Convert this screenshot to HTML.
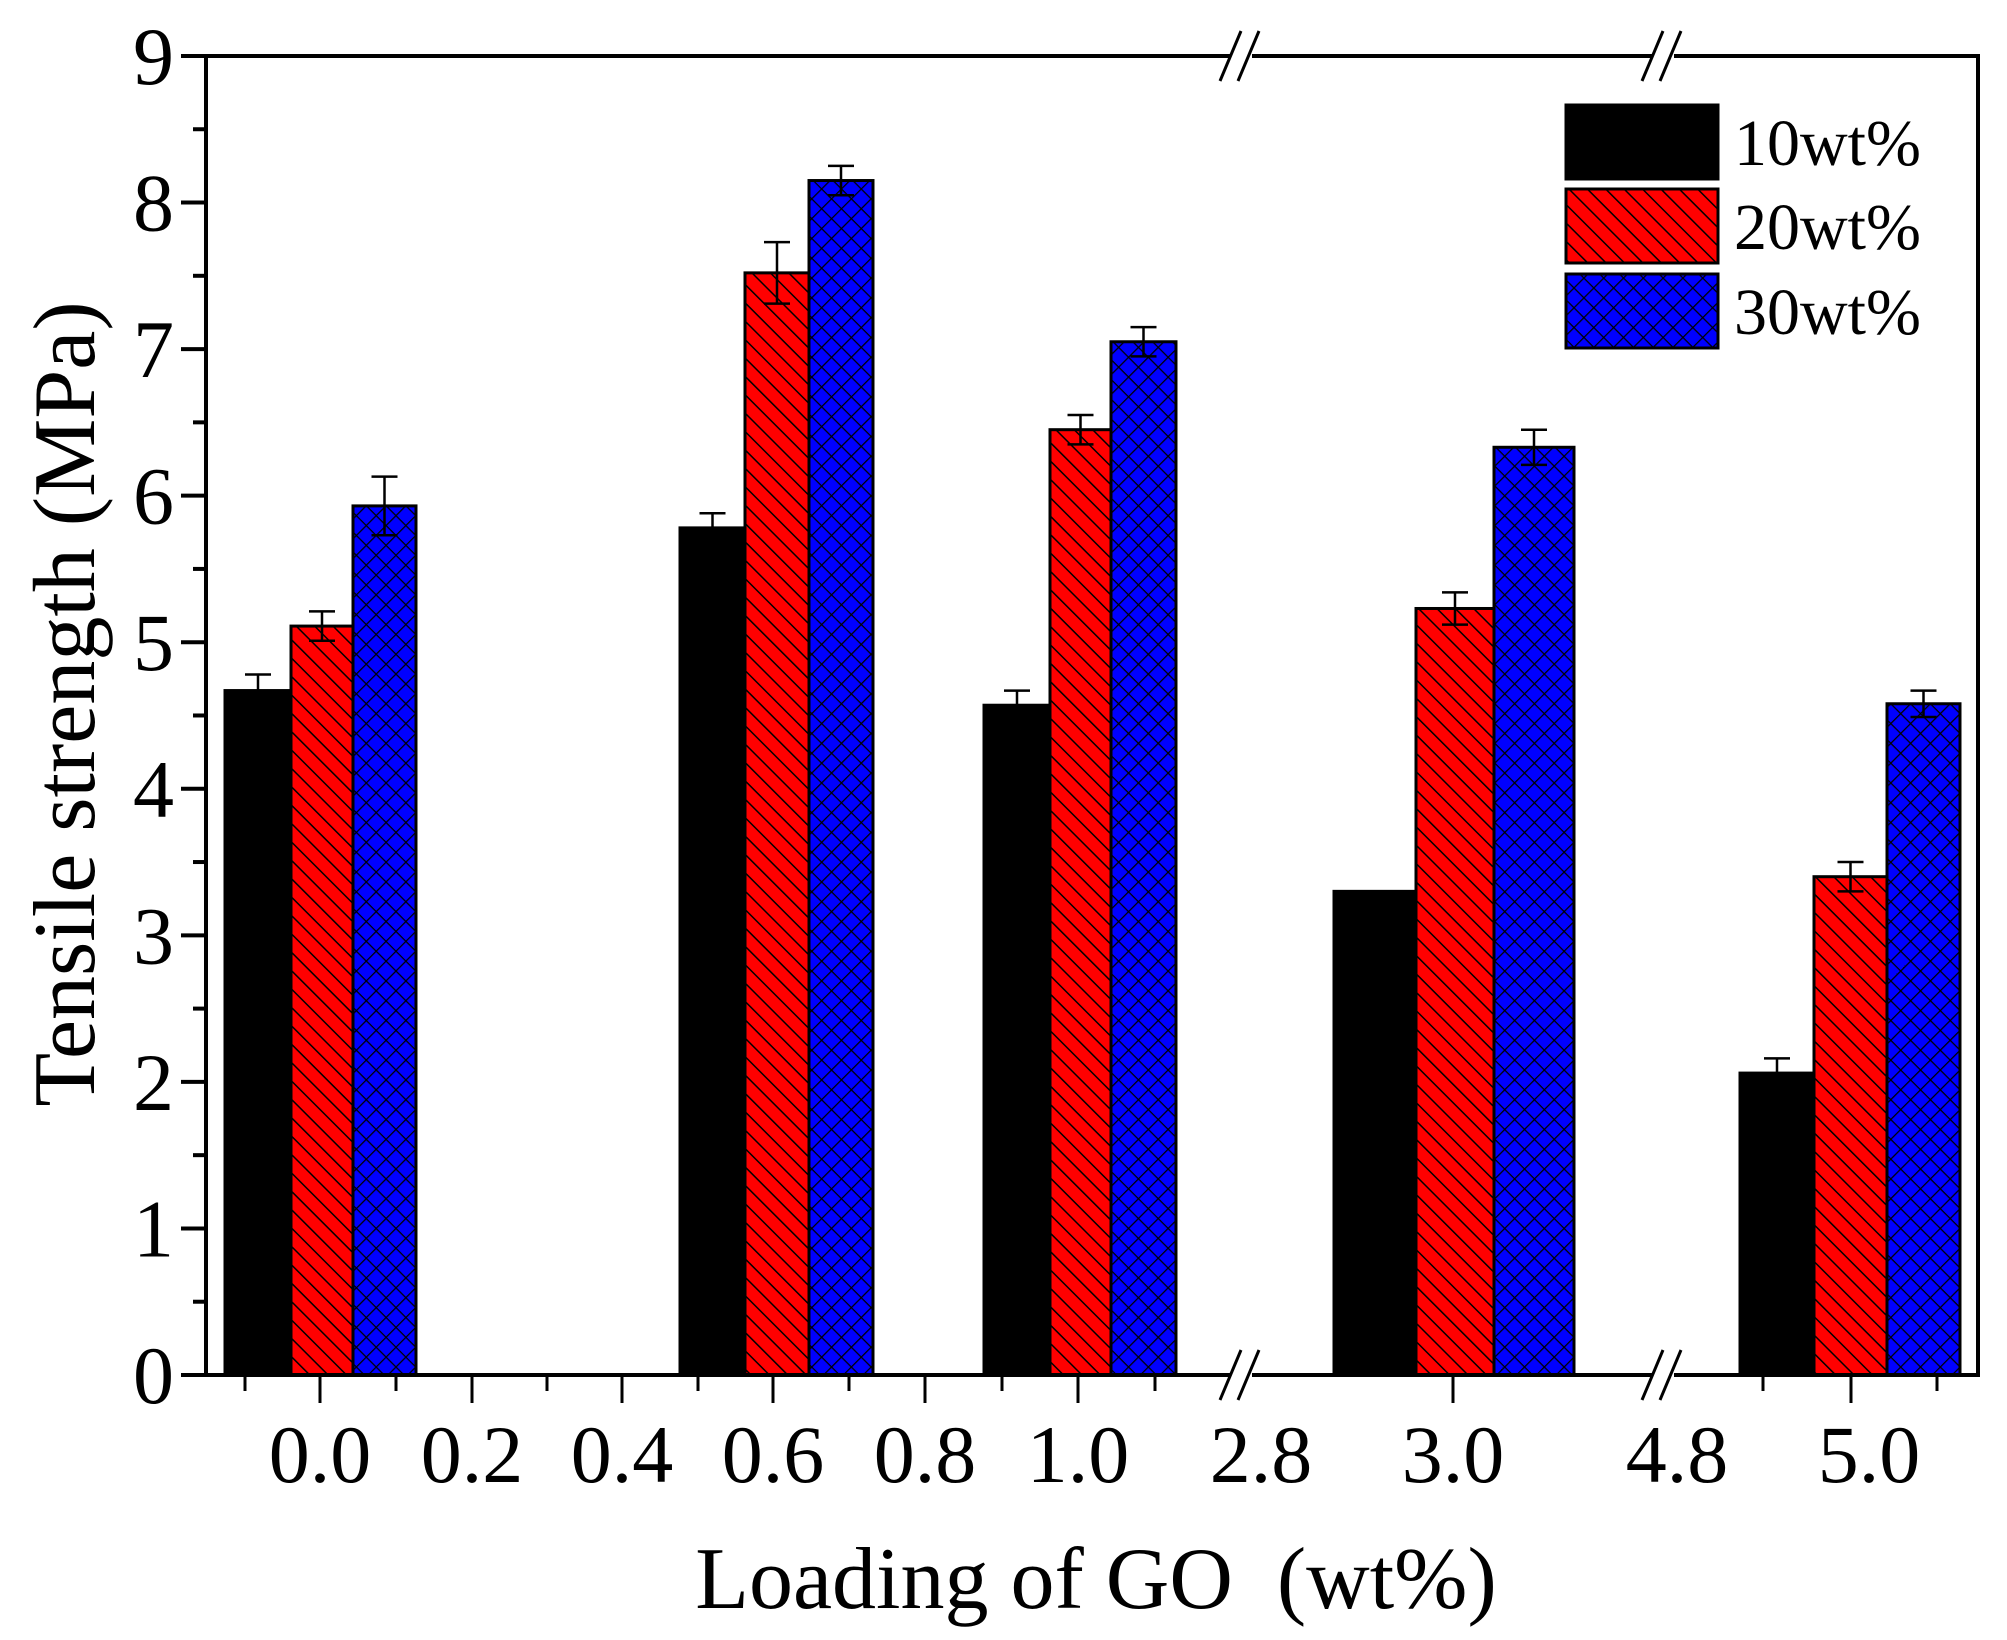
<!DOCTYPE html>
<html><head><meta charset="utf-8"><style>
html,body{margin:0;padding:0;background:#fff;}
svg{display:block;font-family:"Liberation Serif",serif;}
</style></head><body>
<svg id="s" width="2007" height="1640" viewBox="0 0 2007 1640" xmlns="http://www.w3.org/2000/svg">
<defs>
<pattern id="red" patternUnits="userSpaceOnUse" width="13" height="13" patternTransform="rotate(-45)">
<rect width="13" height="13" fill="#ff0000"/><line x1="0" y1="0" x2="0" y2="13" stroke="#000" stroke-width="3"/>
</pattern>
<pattern id="blue" patternUnits="userSpaceOnUse" width="14" height="14" patternTransform="rotate(45)">
<rect width="14" height="14" fill="#0000ff"/><line x1="0" y1="0" x2="0" y2="14" stroke="#000" stroke-width="2.5"/><line x1="0" y1="0" x2="14" y2="0" stroke="#000" stroke-width="2.5"/>
</pattern>
</defs>
<g id="g"></g>
</svg>
<script>
var g=document.getElementById('g'),h='';
function Y(v){return 1375-v*146.56;}
var bars=[
[225,291,4.67,0.11,'#000'],[291,353,5.11,0.1,'url(#red)'],[353,416,5.93,0.2,'url(#blue)'],
[680,745,5.78,0.1,'#000'],[745,809,7.52,0.21,'url(#red)'],[809,873,8.15,0.1,'url(#blue)'],
[984,1050,4.57,0.1,'#000'],[1050,1111,6.45,0.1,'url(#red)'],[1111,1176,7.05,0.1,'url(#blue)'],
[1334,1416,3.30,0,'#000'],[1416,1494,5.23,0.11,'url(#red)'],[1494,1574,6.33,0.12,'url(#blue)'],
[1740,1814,2.06,0.1,'#000'],[1814,1887,3.40,0.1,'url(#red)'],[1887,1960,4.58,0.09,'url(#blue)']];
bars.forEach(function(b){
 var y=Y(b[2]);
 h+='<rect x="'+b[0]+'" y="'+y+'" width="'+(b[1]-b[0])+'" height="'+(1375-y)+'" fill="'+b[4]+'" stroke="#000" stroke-width="3"/>';
 if(b[3]>0){var cx=(b[0]+b[1])/2,t=Y(b[2]+b[3]),bb=Y(b[2]-b[3]);
  h+='<path d="M'+cx+' '+t+'V'+bb+'M'+(cx-13)+' '+t+'H'+(cx+13)+'M'+(cx-13)+' '+bb+'H'+(cx+13)+'" stroke="#000" stroke-width="2.5" fill="none"/>';}
});
h+='<rect x="206" y="56" width="1772" height="1319" fill="none" stroke="#000" stroke-width="4"/>';
for(var i=0;i<=18;i++){var v=i/2,y=Y(v),len=(i%2==0)?25:13;
 h+='<line x1="'+(206-len)+'" y1="'+y+'" x2="206" y2="'+y+'" stroke="#000" stroke-width="4"/>';
 if(i%2==0)h+='<text x="174" y="'+(y+28)+'" font-size="82" text-anchor="end">'+v+'</text>';}
var maj=[320,472,622,773,925,1078,1453,1851],mn=[245,396,547,698,849,1002,1155,1763,1937];
maj.forEach(function(x){h+='<line x1="'+x+'" y1="1375" x2="'+x+'" y2="1403" stroke="#000" stroke-width="3"/>';});
mn.forEach(function(x){h+='<line x1="'+x+'" y1="1375" x2="'+x+'" y2="1391" stroke="#000" stroke-width="3"/>';});
var labs=[[320,'0.0'],[472,'0.2'],[622,'0.4'],[773,'0.6'],[925,'0.8'],[1078,'1.0'],[1261,'2.8'],[1453,'3.0'],[1677,'4.8'],[1869,'5.0']];
labs.forEach(function(l){h+='<text x="'+l[0]+'" y="1482" font-size="82" text-anchor="middle">'+l[1]+'</text>';});
[1240,1662].forEach(function(x){[56,1375].forEach(function(y){
 h+='<rect x="'+(x-10)+'" y="'+(y-4)+'" width="22" height="8" fill="#fff"/>';
 h+='<line x1="'+(x-20)+'" y1="'+(y+25)+'" x2="'+(x+1)+'" y2="'+(y-25)+'" stroke="#000" stroke-width="3"/>';
 h+='<line x1="'+(x-2)+'" y1="'+(y+25)+'" x2="'+(x+19)+'" y2="'+(y-25)+'" stroke="#000" stroke-width="3"/>';
});});
h+='<text x="1096" y="1608" font-size="88" text-anchor="middle" xml:space="preserve">Loading of GO  (wt%)</text>';
h+='<text transform="translate(94,704) rotate(-90)" font-size="88" text-anchor="middle">Tensile strength (MPa)</text>';
var lg=[[105,'#000','10wt%'],[189,'url(#red)','20wt%'],[274,'url(#blue)','30wt%']];
lg.forEach(function(l){h+='<rect x="1566" y="'+l[0]+'" width="152" height="74" fill="'+l[1]+'" stroke="#000" stroke-width="3"/>';
 h+='<text x="1734" y="'+(l[0]+60)+'" font-size="66">'+l[2]+'</text>';});
g.innerHTML=h;
</script>
</body></html>
